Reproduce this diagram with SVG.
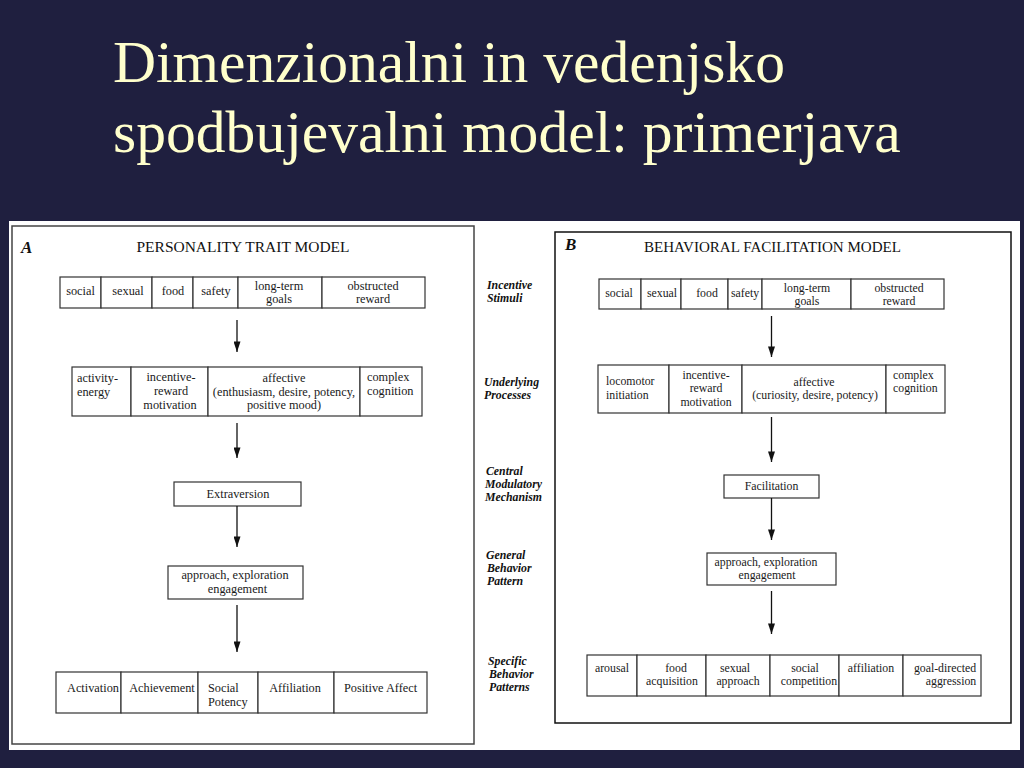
<svg xmlns="http://www.w3.org/2000/svg" width="1024" height="768" viewBox="0 0 1024 768">
<defs>
<style>
.bx{fill:#fff;stroke:#333;stroke-width:1.2}
.pn{fill:none;stroke:#444;stroke-width:1.5}
.t{font-family:"Liberation Serif","Times New Roman",serif;font-size:12.3px;fill:#1a1a1a}
.r{font-size:11.8px}
.m{text-anchor:middle}
.hd{font-family:"Liberation Serif","Times New Roman",serif;font-size:14.5px;fill:#111;text-anchor:middle}
.ab{font-family:"Liberation Serif","Times New Roman",serif;font-size:17px;font-weight:bold;font-style:italic;fill:#111}
.lbl{font-family:"Liberation Serif","Times New Roman",serif;font-size:11.8px;font-weight:bold;font-style:italic;fill:#111}
.ttl{font-family:"Liberation Serif","Times New Roman",serif;font-size:59.6px;fill:#ffffcc}
.cn{stroke:#111;stroke-width:1.3;fill:none;marker-end:url(#ah)}
</style>
<marker id="ah" viewBox="0 0 12 8" refX="12" refY="4" markerWidth="12" markerHeight="7" markerUnits="userSpaceOnUse" orient="auto">
<path d="M0,0 L12,4 L0,8 z" fill="#111"/>
</marker>
</defs>
<rect x="0" y="0" width="1024" height="768" fill="#1f1f3f"/>
<g id="title">
<text class="ttl" x="113" y="82">Dimenzionalni in vedenjsko</text>
<text class="ttl" x="113" y="152">spodbujevalni model: primerjava</text>
</g>
<rect x="9" y="221" width="1011" height="529" fill="#ffffff"/>

<!-- Panel A -->
<g id="panelA">
<rect class="pn" x="12" y="226" width="462" height="518"/>
<text class="ab" x="21" y="253">A</text>
<text class="hd" x="243" y="252" textLength="213" lengthAdjust="spacingAndGlyphs">PERSONALITY TRAIT MODEL</text>
</g>
<g id="a-stimuli">
<rect class="bx" x="60" y="277" width="41" height="31"/>
<rect class="bx" x="101" y="277" width="51" height="31"/>
<rect class="bx" x="152" y="277" width="41" height="31"/>
<rect class="bx" x="193" y="277" width="45" height="31"/>
<rect class="bx" x="238" y="277" width="84" height="31"/>
<rect class="bx" x="322" y="277" width="103" height="31"/>
<text class="t m" x="80.5" y="295">social</text>
<text class="t m" x="128" y="295">sexual</text>
<text class="t m" x="173" y="295">food</text>
<text class="t m" x="216" y="295">safety</text>
<text class="t m" x="279" y="289.5">long-term</text>
<text class="t m" x="279" y="302.5">goals</text>
<text class="t m" x="373" y="289.5">obstructed</text>
<text class="t m" x="373" y="302.5">reward</text>
</g>
<g id="a-processes">
<rect class="bx" x="72" y="367" width="59" height="49"/>
<rect class="bx" x="131" y="367" width="77" height="49"/>
<rect class="bx" x="208" y="367" width="152" height="49"/>
<rect class="bx" x="360" y="367" width="62" height="49"/>
<text class="t" x="77" y="382">activity-</text>
<text class="t" x="77" y="395.5">energy</text>
<text class="t m" x="171" y="381">incentive-</text>
<text class="t m" x="171" y="395">reward</text>
<text class="t m" x="170" y="408.5">motivation</text>
<text class="t m" x="284" y="381.5">affective</text>
<text class="t m" x="284" y="395.5">(enthusiasm, desire, potency,</text>
<text class="t m" x="284" y="409">positive mood)</text>
<text class="t" x="367" y="381">complex</text>
<text class="t" x="367" y="395">cognition</text>
</g>
<g id="a-extraversion">
<rect class="bx" x="174" y="482" width="127" height="24"/>
<text class="t m" x="238" y="498">Extraversion</text>
</g>
<g id="a-approach">
<rect class="bx" x="168" y="566" width="135" height="33"/>
<text class="t m" x="235" y="579">approach, exploration</text>
<text class="t m" x="237.5" y="592.5">engagement</text>
</g>
<g id="a-traits">
<rect class="bx" x="56" y="672" width="65" height="41"/>
<rect class="bx" x="121" y="672" width="77" height="41"/>
<rect class="bx" x="198" y="672" width="60" height="41"/>
<rect class="bx" x="258" y="672" width="76" height="41"/>
<rect class="bx" x="334" y="672" width="93" height="41"/>
<text class="t m" x="93" y="692">Activation</text>
<text class="t m" x="162" y="692">Achievement</text>
<text class="t" x="208" y="692">Social</text>
<text class="t" x="208" y="706">Potency</text>
<text class="t m" x="295" y="692">Affiliation</text>
<text class="t m" x="380.5" y="692">Positive Affect</text>
</g>

<!-- Row labels -->
<g id="row-labels">
<text class="lbl" x="487" y="289">Incentive</text>
<text class="lbl" x="487" y="302">Stimuli</text>
<text class="lbl" x="484" y="386">Underlying</text>
<text class="lbl" x="484" y="399">Processes</text>
<text class="lbl" x="486" y="475">Central</text>
<text class="lbl" x="485" y="488">Modulatory</text>
<text class="lbl" x="485" y="501">Mechanism</text>
<text class="lbl" x="486" y="559">General</text>
<text class="lbl" x="487" y="572">Behavior</text>
<text class="lbl" x="487" y="585">Pattern</text>
<text class="lbl" x="488" y="665">Specific</text>
<text class="lbl" x="489" y="678">Behavior</text>
<text class="lbl" x="489" y="691">Patterns</text>
</g>

<!-- Panel B -->
<g id="panelB">
<rect class="pn" x="555" y="232" width="456" height="491" style="stroke:#111"/>
<text class="ab" x="565" y="250">B</text>
<text class="hd" x="772.5" y="252" textLength="257" lengthAdjust="spacingAndGlyphs">BEHAVIORAL FACILITATION MODEL</text>
</g>
<g id="b-stimuli">
<rect class="bx" x="599" y="279" width="42" height="30"/>
<rect class="bx" x="641" y="279" width="40" height="30"/>
<rect class="bx" x="681" y="279" width="47" height="30"/>
<rect class="bx" x="728" y="279" width="34" height="30"/>
<rect class="bx" x="762" y="279" width="89" height="30"/>
<rect class="bx" x="851" y="279" width="93" height="30"/>
<text class="t r m" x="619" y="296.5">social</text>
<text class="t r m" x="662" y="296.5">sexual</text>
<text class="t r m" x="707" y="296.5">food</text>
<text class="t r m" x="745" y="296.5">safety</text>
<text class="t r m" x="807" y="292">long-term</text>
<text class="t r m" x="807" y="304.5">goals</text>
<text class="t r m" x="899" y="292">obstructed</text>
<text class="t r m" x="899" y="304.5">reward</text>
</g>
<g id="b-processes">
<rect class="bx" x="598" y="365" width="71" height="48"/>
<rect class="bx" x="669" y="365" width="73" height="48"/>
<rect class="bx" x="742" y="365" width="144" height="48"/>
<rect class="bx" x="886" y="365" width="59" height="48"/>
<text class="t r" x="606" y="385">locomotor</text>
<text class="t r" x="606" y="399">initiation</text>
<text class="t r m" x="706" y="379">incentive-</text>
<text class="t r m" x="706" y="392">reward</text>
<text class="t r m" x="706" y="405.5">motivation</text>
<text class="t r m" x="814" y="385.5">affective</text>
<text class="t r m" x="815" y="399">(curiosity, desire, potency)</text>
<text class="t r" x="893" y="379">complex</text>
<text class="t r" x="893" y="392">cognition</text>
</g>
<g id="b-facilitation">
<rect class="bx" x="724" y="475" width="95" height="23"/>
<text class="t r m" x="771.5" y="489.5">Facilitation</text>
</g>
<g id="b-approach">
<rect class="bx" x="707" y="553" width="129" height="32"/>
<text class="t r m" x="766" y="565.5">approach, exploration</text>
<text class="t r m" x="767" y="578.5">engagement</text>
</g>
<g id="b-behaviors">
<rect class="bx" x="587" y="655" width="50" height="41"/>
<rect class="bx" x="637" y="655" width="69" height="41"/>
<rect class="bx" x="706" y="655" width="64" height="41"/>
<rect class="bx" x="770" y="655" width="69" height="41"/>
<rect class="bx" x="839" y="655" width="64" height="41"/>
<rect class="bx" x="903" y="655" width="78" height="41"/>
<text class="t r m" x="612" y="671.5">arousal</text>
<text class="t r m" x="676" y="671.5">food</text>
<text class="t r m" x="672" y="684.5">acquisition</text>
<text class="t r m" x="735" y="671.5">sexual</text>
<text class="t r m" x="738" y="684.5">approach</text>
<text class="t r m" x="805" y="671.5">social</text>
<text class="t r m" x="809" y="684.5">competition</text>
<text class="t r m" x="871" y="671.5">affiliation</text>
<text class="t r m" x="945" y="671.5">goal-directed</text>
<text class="t r m" x="951" y="684.5">aggression</text>
</g>

<g id="connectors">
<line class="cn" x1="237" y1="320" x2="237" y2="352"/>
<line class="cn" x1="237" y1="423" x2="237" y2="458"/>
<line class="cn" x1="237" y1="506" x2="237" y2="547"/>
<line class="cn" x1="237" y1="605" x2="237" y2="652"/>
<line class="cn" x1="771.5" y1="316" x2="771.5" y2="357"/>
<line class="cn" x1="771.5" y1="417" x2="771.5" y2="462"/>
<line class="cn" x1="771.5" y1="498" x2="771.5" y2="540"/>
<line class="cn" x1="771.5" y1="591" x2="771.5" y2="634"/>
</g>
</svg>
